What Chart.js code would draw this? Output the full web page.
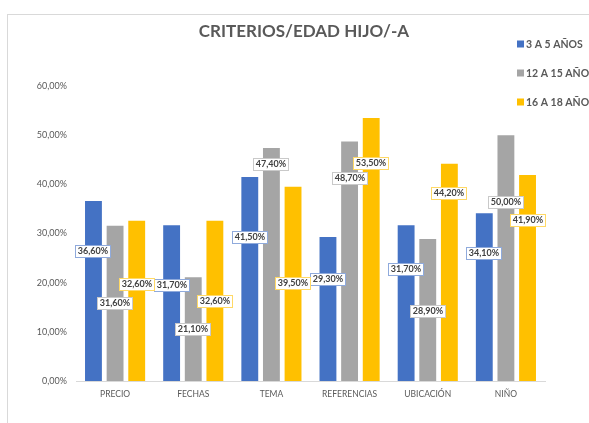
<!DOCTYPE html>
<html>
<head>
<meta charset="utf-8">
<script src="https://cdn.jsdelivr.net/npm/chart.js@4"></script>
<style>
  html, body { margin: 0; padding: 0; background: #fff; overflow: hidden; }
  .frame { position: absolute; left: 7px; top: 14px; width: 700px; height: 500px; border-left: 1px solid #d9d9d9; border-top: 1px solid #d9d9d9; }
  .wrap { position: absolute; left: 0; top: 0; width: 589px; height: 423px; }
</style>
</head>
<body>
<div class="frame"></div>
<div class="wrap"><canvas class="myChart" width="589" height="423"></canvas></div>
<script>
var categories = ["PRECIO", "FECHAS", "TEMA", "REFERENCIAS", "UBICACIÓN", "NIÑO"];
var seriesNames = ["3 A 5 AÑOS", "12 A 15 AÑOS", "16 A 18 AÑOS"];
var age3to5 = [36.6, 31.7, 41.5, 29.3, 31.7, 34.1];
var age12to15 = [31.6, 21.1, 47.4, 48.7, 28.9, 50.0];
var age16to18 = [32.6, 32.6, 39.5, 53.5, 44.2, 41.9];
var yTicks = [0, 10, 20, 30, 40, 50, 60];

// where excel left the data labels (in axis units)
var labelAt = [
  [26.4, 19.5, 29.3, 20.7, 22.8, 26.0],
  [15.9, 10.6, 44.1, 41.3, 14.2, 36.4],
  [19.7, 16.3, 19.9, 44.3, 38.2, 32.7]
];

var colors = ["#4472C4", "#A5A5A5", "#FFC000"];
var boxColors = ["#8FAADC", "#C9C9C9", "#FFD966"];

function fmt(v) {
  return v.toFixed(2).replace(".", ",") + "%";
}

var extras = {
  id: "extras",
  afterDraw: function (chart) {
    var ctx = chart.ctx;
    ctx.save();
    // title
    ctx.fillStyle = "#595959";
    ctx.font = "bold 17px Lato";
    ctx.textAlign = "center";
    ctx.textBaseline = "middle";
    ctx.fillText("CRITERIOS/EDAD HIJO/-A", 304, 32);

    // legend
    ctx.font = "bold 10.5px Lato";
    ctx.textAlign = "left";
    var ly = [44, 73, 102];
    chart.data.datasets.forEach(function (ds, i) {
      ctx.fillStyle = ds.backgroundColor;
      ctx.fillRect(517, ly[i] - 3.5, 7, 7);
      ctx.fillStyle = "#595959";
      ctx.fillText(ds.label, 526, ly[i] + 0.5);
    });

    // data labels
    var yScale = chart.scales.y;
    ctx.font = "bold 9px Lato";
    ctx.textAlign = "center";
    chart.data.datasets.forEach(function (ds, i) {
      var meta = chart.getDatasetMeta(i);
      meta.data.forEach(function (bar, j) {
        var txt = fmt(ds.data[j]);
        var w = ctx.measureText(txt).width + 5;
        var h = 12;
        var cx = Math.round(bar.x);
        var cy = Math.round(yScale.getPixelForValue(labelAt[i][j]));
        ctx.fillStyle = "#fff";
        ctx.fillRect(cx - w / 2, cy - h / 2, w, h);
        ctx.strokeStyle = boxColors[i];
        ctx.lineWidth = 1;
        ctx.strokeRect(Math.round(cx - w / 2) + 0.5, cy - h / 2 + 0.5, Math.round(w), h);
        ctx.fillStyle = "#404040";
        ctx.fillText(txt, cx, cy + 0.5);
      });
    });
    ctx.restore();
  }
};

var chart = new Chart(document.querySelector(".myChart").getContext("2d"), {
  type: "bar",
  data: {
    labels: categories,
    datasets: [
      { label: seriesNames[0], data: age3to5, backgroundColor: colors[0] },
      { label: seriesNames[1], data: age12to15, backgroundColor: colors[1] },
      { label: seriesNames[2], data: age16to18, backgroundColor: colors[2] }
    ]
  },
  options: {
    responsive: false,
    animation: false,
    events: [],
    layout: { padding: { left: 0, top: 86, right: 44, bottom: 0 } },
    datasets: {
      bar: { categoryPercentage: 0.83, barPercentage: 0.78 }
    },
    plugins: {
      legend: { display: false },
      title: { display: false },
      tooltip: { enabled: false }
    },
    scales: {
      x: {
        grid: { display: false, drawTicks: false },
        border: { color: "#D9D9D9", width: 1 },
        ticks: { color: "#595959", font: { family: "Lato", size: 8.5 }, padding: 8 },
        afterFit: function (s) { s.height = 42; }
      },
      y: {
        min: 0,
        max: 60,
        afterBuildTicks: function (s) {
          s.ticks = yTicks.map(function (v) { return { value: v }; });
        },
        grid: { display: false, drawTicks: false },
        border: { display: false },
        ticks: {
          color: "#595959",
          font: { family: "Lato", size: 9 },
          padding: 9,
          callback: function (v) { return fmt(v); }
        },
        afterFit: function (s) { s.width = 76; }
      }
    }
  },
  plugins: [extras]
});
</script>
</body>
</html>
